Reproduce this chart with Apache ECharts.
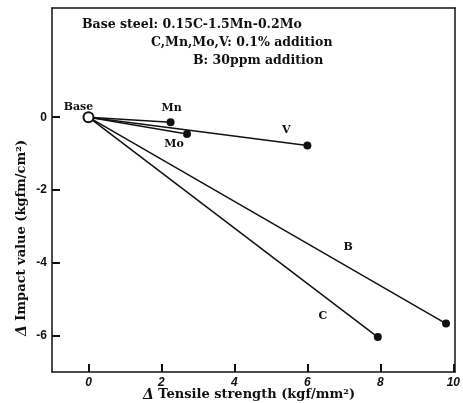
<!DOCTYPE html>
<html><head><meta charset="utf-8">
<script src="https://cdn.jsdelivr.net/npm/echarts@6/dist/echarts.min.js"></script>
<style>html,body{margin:0;padding:0;background:#fff}#c{width:463px;height:403px}</style>
</head><body><div id="c"></div>
<script>
// Data (Δ tensile strength kgf/mm², Δ impact value kgfm/cm²)
const names = ['Mn', 'Mo', 'V', 'B', 'C'];
const dTensile = [2.25, 2.7, 6.0, 9.8, 7.93];
const dImpact = [-0.14, -0.46, -0.78, -5.67, -6.04];
const base = [0, 0];
const xTicks = [0, 2, 4, 6, 8, 10];
const yTicks = [-6, -4, -2, 0];
const notes = ['Base steel: 0.15C-1.5Mn-0.2Mo', 'C,Mn,Mo,V: 0.1% addition', 'B: 30ppm addition'];

const labelOffsets = {Mn: [1, -14], Mo: [-13, 10], V: [-21, -15], B: [-98, -76], C: [-55, -21]};
const txtFont = {fontFamily: 'DejaVu Serif', fontWeight: 'bold', fontSize: 11, color: '#111', textBorderWidth: 0, opacity: 1};

const chart = echarts.init(document.getElementById('c'), null, {renderer: 'canvas'});
const series = names.map((n, i) => ({
  type: 'line',
  data: [
    {value: base, symbol: 'none'},
    {value: [dTensile[i], dImpact[i]], label: {
      show: true, position: 'inside', offset: labelOffsets[n],
      formatter: n, ...txtFont
    }}
  ],
  symbol: 'circle',
  symbolSize: 8,
  showSymbol: true,
  lineStyle: {color: '#111', width: 1.5},
  itemStyle: {color: '#111'},
  emphasis: {disabled: true},
  z: 2,
  animation: false
}));
series.push({
  type: 'scatter',
  data: [{value: base, label: {show: true, position: 'top', distance: 0, offset: [-10, 1], formatter: 'Base', ...txtFont}}],
  symbol: 'circle', symbolSize: 10,
  itemStyle: {color: '#fff', borderColor: '#111', borderWidth: 2, opacity: 1},
  z: 5, animation: false, emphasis: {disabled: true}
});

const lineSty = {color: '#111', width: 1.5};
const tickSty = {color: '#111', width: 2};
const xRange = {min: -1, max: 10.05};
const yRange = {min: -7, max: 3};
const borderAxis = {
  axisLine: {show: true, onZero: false, lineStyle: lineSty},
  axisTick: {show: false}, axisLabel: {show: false}, splitLine: {show: false}
};
const titleRich = {d: {font: 'italic bold 14px "DejaVu Serif"', fill: '#111'}};
chart.setOption({
  backgroundColor: '#fff',
  animation: false,
  grid: {left: 52, right: 5, top: 8, bottom: 31, show: false},
  xAxis: [{
    type: 'value', ...xRange, position: 'bottom',
    axisLine: {show: true, onZero: false, lineStyle: lineSty},
    axisTick: {show: true, inside: true, length: 8, customValues: xTicks, lineStyle: tickSty},
    axisLabel: {customValues: xTicks, color: '#111', fontFamily: 'Liberation Sans', fontWeight: 'bold', fontStyle: 'italic', fontSize: 12, margin: 5},
    splitLine: {show: false}
  }, {
    type: 'value', ...xRange, position: 'top', ...borderAxis
  }],
  yAxis: [{
    type: 'value', ...yRange, position: 'left',
    axisLine: {show: true, onZero: false, lineStyle: lineSty},
    axisTick: {show: true, inside: true, length: 8, customValues: yTicks, lineStyle: tickSty},
    axisLabel: {customValues: yTicks, color: '#111', fontFamily: 'Liberation Sans', fontWeight: 'bold', fontSize: 12, margin: 5},
    splitLine: {show: false}
  }, {
    type: 'value', ...yRange, position: 'right', ...borderAxis
  }],
  graphic: [
    {type: 'text', left: 82, top: 18, style: {text: notes[0], font: 'bold 12.5px "DejaVu Serif"', fill: '#111'}},
    {type: 'text', left: 151, top: 36, style: {text: notes[1], font: 'bold 12.5px "DejaVu Serif"', fill: '#111'}},
    {type: 'text', left: 193, top: 54, style: {text: notes[2], font: 'bold 12.5px "DejaVu Serif"', fill: '#111'}},
    {type: 'text', x: 249, y: 395, style: {
      text: '{d|Δ} Tensile strength (kgf/mm²)', align: 'center', verticalAlign: 'middle',
      font: 'bold 13px "DejaVu Serif"', fill: '#111', rich: titleRich
    }},
    {type: 'text', x: 22, y: 238, rotation: Math.PI / 2, style: {
      text: '{d|Δ} Impact value (kgfm/cm²)', align: 'center', verticalAlign: 'middle',
      font: 'bold 13px "DejaVu Serif"', fill: '#111', rich: titleRich
    }}
  ],
  series: series
});
</script></body></html>
